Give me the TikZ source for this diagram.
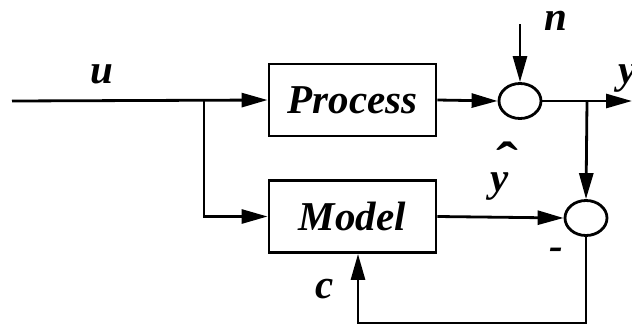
\documentclass[tikz,border=0pt]{standalone}
\usepackage{fontspec}
\setmainfont{Liberation Serif}
\usetikzlibrary{arrows.meta,shapes.geometric}
\begin{document}
\begin{tikzpicture}[x=1pt,y=-1pt,
  line width=2.8pt,
  sig/.style={-{Triangle[length=26pt,width=14pt]}},
  block/.style={draw,rectangle,minimum width=167pt,minimum height=72pt,inner sep=0pt,
    font=\fontsize{41}{44}\selectfont\bfseries\itshape},
  junction/.style={draw,ellipse,minimum width=42pt,minimum height=35pt,inner sep=0pt},
  lbl/.style={font=\fontsize{41}{44}\selectfont\bfseries\itshape,inner sep=0pt,anchor=base}]
\useasboundingbox (0,0) rectangle (632,327);
% blocks
\node[block] (proc) at (352.5,100) {Process};
\node[block] (model) at (352.5,216.5) {Model};
% summing junctions
\node[junction] (s1) at (520,101) {};
\node[junction] (s2) at (586,218) {};
% points on the wires
\coordinate (in) at (12,101);
\coordinate (br) at (204,101);
\coordinate (nin) at (520,24);
\coordinate (ybr) at (587,101);
\coordinate (out) at (632,101);
\coordinate (fb) at (586,323);
\coordinate (fb2) at (358,323);
% signal paths
\draw[sig] (in) -- (proc.west);
\draw[sig] (br) |- (model.west);
\draw[sig] (proc.east) -- (s1.west);
\draw[sig] (nin) -- (s1.north);
\draw[sig] (s1.east) -- (out);
\draw[sig] (ybr) -- (s2.north);
\draw[sig] (model.east) -- (s2.west);
\draw[sig] (s2.south) -- (fb) -- (fb2) -- (fb2 |- model.south);
% labels
\node[lbl] (lu) at (102,83) {u};
\node[lbl] (ln) at (556,30) {n};
\node[lbl] (ly) at (628,83) {y};
\node[lbl] (lyh) at (500,191) {y};
\node[inner sep=0pt,font=\fontsize{41}{44}\selectfont\bfseries] (lhat) at (507,161)
  {\scalebox{1.6}[1.3]{\char"02C6}};
\node[lbl] (lc) at (325,298) {c};
\node[lbl] (lm) at (556,259) {-};
\end{tikzpicture}
\end{document}
